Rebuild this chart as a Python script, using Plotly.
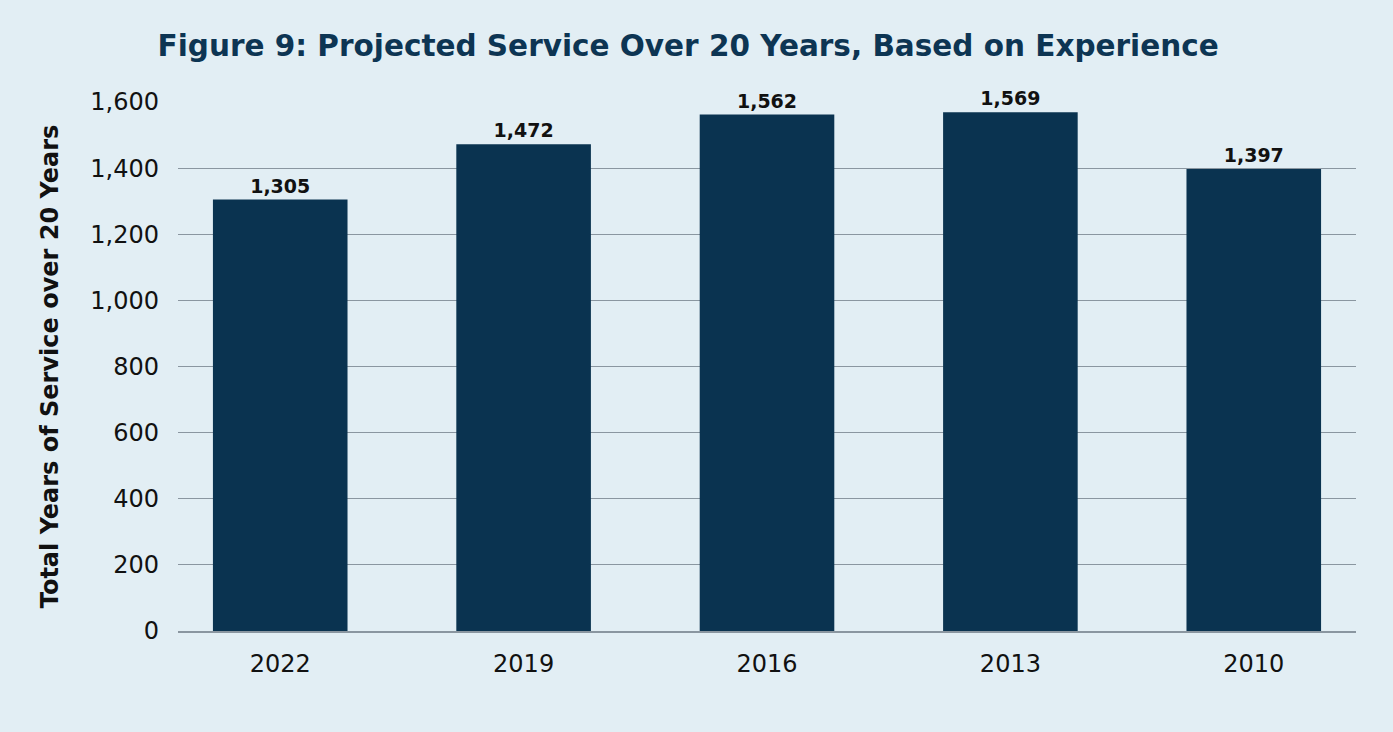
import plotly.graph_objects as go

categories = ["2022", "2019", "2016", "2013", "2010"]
values = [1305, 1472, 1562, 1569, 1397]
y_ticks = [0, 200, 400, 600, 800, 1000, 1200, 1400, 1600]
y_tick_labels = ["0", "200", "400", "600", "800", "1,000", "1,200", "1,400", "1,600"]

BG = "#E2EEF4"
BAR = "#0A3350"
NAVY = "#0D3553"
GRID = "#8A96A0"
FONT = "DejaVu Sans"

fig = go.Figure(
    go.Bar(
        x=list(range(len(categories))),
        y=values,
        width=0.553,
        marker=dict(color=BAR, line=dict(width=0)),
        text=[f"{v:,}" for v in values],
        textposition="outside",
        cliponaxis=False,
        textfont=dict(family=FONT, size=19, color="#111111", weight="bold"),
    )
)

fig.update_layout(
    width=1393,
    height=732,
    paper_bgcolor=BG,
    plot_bgcolor=BG,
    margin=dict(l=178, r=37, t=102, b=101),
    showlegend=False,
    title=dict(
        text="<b>Figure 9:</b> Projected Service Over 20 Years, Based on Experience",
        x=0.494,
        xanchor="center",
        y=0.937,
        yanchor="middle",
        font=dict(family=FONT, size=29.5, color=NAVY, weight=600),
    ),
    xaxis=dict(
        tickmode="array",
        tickvals=list(range(len(categories))),
        ticktext=categories,
        range=[-0.42, 4.42],
        showgrid=False,
        showline=True,
        linecolor=GRID,
        linewidth=2,
        ticks="",
        tickfont=dict(family=FONT, size=24, color="#111111"),
        ticklabelstandoff=10,
        zeroline=False,
    ),
    yaxis=dict(
        range=[0, 1600],
        tickmode="array",
        tickvals=y_ticks,
        ticktext=y_tick_labels,
        showgrid=True,
        gridcolor=GRID,
        gridwidth=1,
        zeroline=False,
        ticks="",
        tickfont=dict(family=FONT, size=24, color="#111111"),
        ticklabelstandoff=18,
        title=dict(
            text="Total Years of Service over 20 Years",
            font=dict(family=FONT, size=24, color="#111111", weight=600),
            standoff=24,
        ),
    ),
    bargap=0.45,
)

fig.write_html("out.html")
